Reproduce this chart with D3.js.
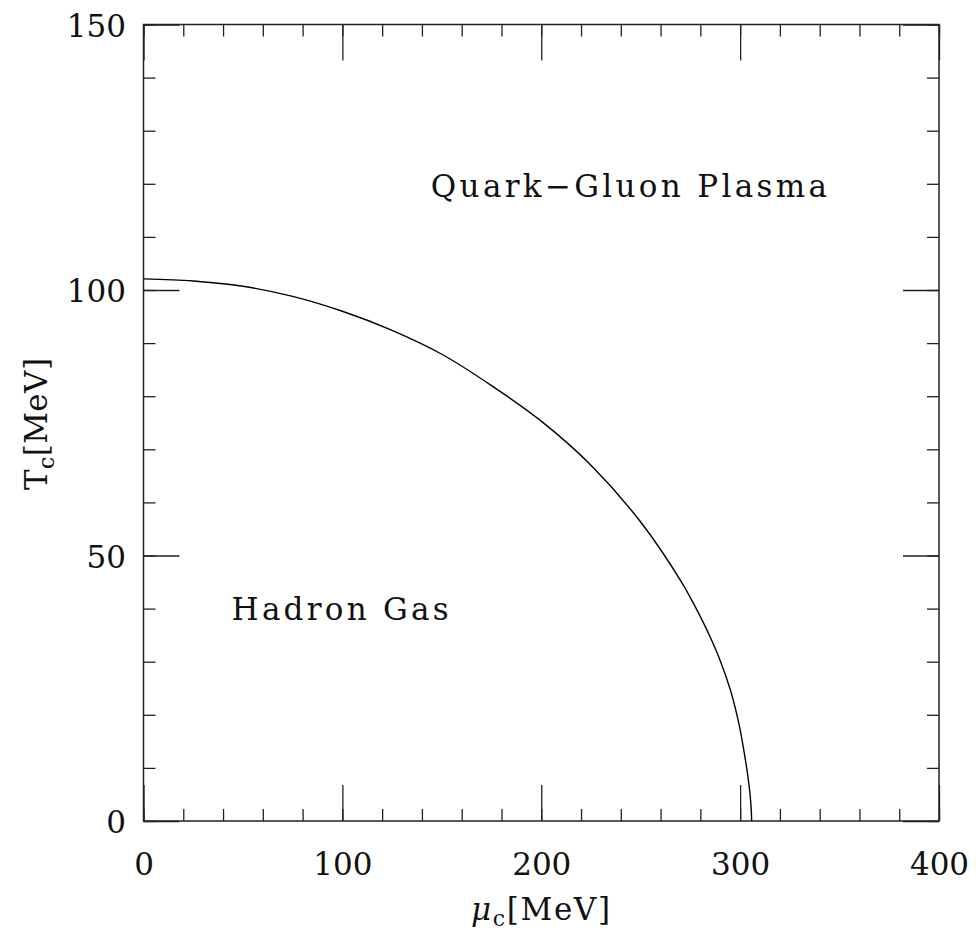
<!DOCTYPE html>
<html>
<head>
<meta charset="utf-8">
<script src="https://cdn.jsdelivr.net/npm/d3@7"></script>
<style>
  html, body { margin:0; padding:0; background:#fff; }
  svg text { font-family: "DejaVu Serif", "Liberation Serif", serif; fill:#111; }
</style>
</head>
<body>
<svg id="chart" width="976" height="933"></svg>
<script>
/* ---------- data ---------- */
const muVals = [0, 25, 50, 75, 100, 125, 150, 175, 200, 225, 250, 270, 280, 285, 290, 295, 298, 300, 302, 303.5, 305, 305.6, 305.8];
const tcVals = [102.1, 101.7, 100.7, 98.8, 96.0, 92.4, 87.9, 82.0, 75.3, 67.0, 56.3, 45.3, 38.5, 34.6, 30.2, 24.8, 20.6, 17.2, 13.0, 9.5, 5.0, 2.0, 0];

const xMajor = [0, 100, 200, 300, 400];
const xMinor = d3.range(0, 401, 20);
const yMajor = [0, 50, 100, 150];
const yMinor = d3.range(0, 151, 10);

const regionLabels = [
  {text: 'Quark\u2212Gluon Plasma', mu: 144.5, t: 117.6, len: 396},
  {text: 'Hadron Gas',             mu: 44.3,  t: 37.9,  len: 217}
];

/* ---------- layout ---------- */
const svg = d3.select('#chart');
const L = 143.5, R = 939, T = 24.5, B = 821;
const FS = 31;
const FONT = '"DejaVu Serif", serif';

const x = d3.scaleLinear().domain([0, 400]).range([L, R]);
const y = d3.scaleLinear().domain([0, 150]).range([B, T]);

const ink = '#222';

/* ticks on all four sides, pointing inwards */
function ticks(axis, tr, vals, size, labels, pad){
  const g = svg.append('g').attr('transform', tr)
    .call(axis.tickValues(vals).tickSize(size).tickSizeOuter(0)
      .tickPadding(pad || 0)
      .tickFormat(labels ? d3.format('d') : ''));
  g.select('.domain').remove();
  g.selectAll('line').attr('stroke', ink).attr('stroke-width', 1.3);
  g.selectAll('text').style('font-size', FS + 'px')
    .style('font-family', FONT).attr('fill', '#111');
  return g;
}

ticks(d3.axisBottom(x), `translate(0,${B})`, xMinor, -12, false);
ticks(d3.axisBottom(x), `translate(0,${B})`, xMajor, -36, true, 32);
ticks(d3.axisTop(x),    `translate(0,${T})`, xMinor, -12, false);
ticks(d3.axisTop(x),    `translate(0,${T})`, xMajor, -36, false);

ticks(d3.axisLeft(y),  `translate(${L},0)`, yMinor, -12, false);
ticks(d3.axisLeft(y),  `translate(${L},0)`, yMajor, -36, true, 17.5)
  .selectAll('text').attr('dy', '0.38em');
ticks(d3.axisRight(y), `translate(${R},0)`, yMinor, -12, false);
ticks(d3.axisRight(y), `translate(${R},0)`, yMajor, -36, false);

/* frame */
svg.append('rect')
  .attr('x', L).attr('y', T)
  .attr('width', R - L).attr('height', B - T)
  .attr('fill', 'none').attr('stroke', ink).attr('stroke-width', 1.5);

/* phase boundary */
const pts = muVals.map((m, i) => [m, tcVals[i]]);
svg.append('path')
  .datum(pts)
  .attr('d', d3.line().x(d => x(d[0])).y(d => y(d[1])).curve(d3.curveCatmullRom.alpha(0.5)))
  .attr('fill', 'none').attr('stroke', '#000').attr('stroke-width', 1.4);

/* region labels */
svg.selectAll('.region')
  .data(regionLabels)
  .enter().append('text')
    .attr('class', 'region')
    .attr('x', d => x(d.mu))
    .attr('y', d => y(d.t))
    .attr('textLength', d => d.len)
    .attr('lengthAdjust', 'spacing')
    .style('font-size', FS + 'px')
    .text(d => d.text);

/* axis titles */
const xt = svg.append('text')
  .attr('x', 471).attr('y', 920)
  .attr('textLength', 139).attr('lengthAdjust', 'spacing')
  .style('font-size', FS + 'px');
xt.append('tspan').style('font-style', 'italic').text('\u03bc');
xt.append('tspan').attr('dy', 6).style('font-size', '22px').text('c');
xt.append('tspan').attr('dy', -6).text('[MeV]');

const yt = svg.append('text')
  .attr('transform', 'translate(47,490) rotate(-90)')
  .attr('textLength', 132).attr('lengthAdjust', 'spacing')
  .style('font-size', FS + 'px');
yt.append('tspan').text('T');
yt.append('tspan').attr('dy', 7).style('font-size', '22px').text('c');
yt.append('tspan').attr('dy', -7).text('[MeV]');
</script>
</body>
</html>
